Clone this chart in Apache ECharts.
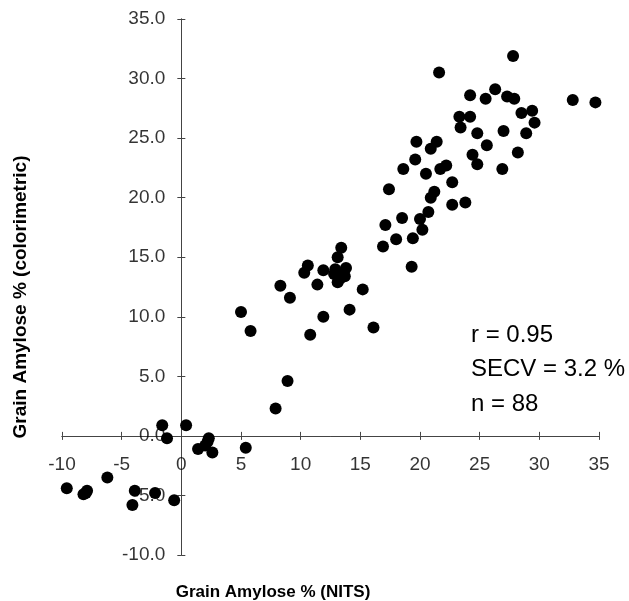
<!DOCTYPE html>
<html>
<head>
<meta charset="utf-8">
<script src="https://cdn.jsdelivr.net/npm/echarts@6/dist/echarts.min.js"></script>
<style>
  html, body { margin: 0; padding: 0; background: #fff; }
  #chart { width: 629px; height: 601px; }
</style>
</head>
<body>
<div id="chart"></div>
<script>
// NITS predicted vs colorimetric grain amylose (%)
var nitsValues = [
    -9.6, -8.2, -7.9, -6.2, -3.9, -4.1, -2.2, -0.6, -1.6, -1.2,
    0.4, 1.4, 2.0, 2.3, 2.6, 5.4, 5.0, 5.8, 7.9, 8.9,
    10.8, 11.9, 8.3, 9.1, 11.4, 10.6, 10.3, 11.9, 13.4, 13.1,
    12.8, 13.8, 13.7, 13.1, 15.2, 14.1, 16.1, 16.9, 18.0, 17.1,
    18.5, 19.4, 20.0, 20.2, 20.7, 19.3, 17.4, 20.9, 21.2, 22.7,
    23.8, 22.7, 18.6, 20.5, 21.7, 22.2, 19.6, 19.7, 20.9, 21.4,
    24.4, 24.8, 25.6, 24.8, 26.9, 23.4, 27.0, 28.2, 27.8, 21.6,
    24.2, 26.3, 25.5, 27.3, 27.9, 32.8, 34.7, 23.3, 24.2, 28.5,
    29.4, 29.6, 28.9, -8.0, 2.2, 13.3, 12.9, 13.5
];
var colorimetricValues = [
    -4.4, -4.9, -4.6, -3.5, -4.6, -5.8, -4.8, -5.4, 0.9, -0.2,
    0.9, -1.1, -0.8, -0.2, -1.4, -1.0, 10.4, 8.8, 2.3, 4.6,
    8.5, 10.0, 12.6, 11.6, 12.7, 14.3, 13.7, 13.9, 15.8, 15.0,
    13.6, 14.1, 13.4, 12.9, 12.3, 10.6, 9.1, 15.9, 16.5, 17.7,
    18.3, 16.6, 18.2, 17.3, 18.8, 14.2, 20.7, 20.0, 20.5, 19.4,
    19.6, 21.3, 22.4, 22.0, 22.4, 22.7, 23.2, 24.7, 24.1, 24.7,
    23.6, 22.8, 24.4, 25.4, 22.4, 25.9, 25.6, 23.8, 31.9, 30.5,
    28.6, 29.1, 28.3, 28.5, 28.3, 28.2, 28.0, 26.8, 26.8, 27.1,
    27.3, 26.3, 25.4, -4.8, -0.5, 13.2, 14.0, 13.6
];
var xTickValues = [-10, -5, 0, 5, 10, 15, 20, 25, 30, 35];
var yTickValues = [-10, -5, 0, 5, 10, 15, 20, 25, 30, 35];
var statsLines = ['r = 0.95', 'SECV = 3.2 %', 'n = 88'];
var xTitle = 'Grain Amylose % (NITS)';
var yTitle = 'Grain Amylose % (colorimetric)';

var points = nitsValues.map(function (x, i) {
    return [x, colorimetricValues[i]];
});

var chart = echarts.init(document.getElementById('chart'));
var font = 'Liberation Sans, Arial, sans-serif';
var axisColor = '#444';

// two copies of each axis: one with outer ticks, one with inner ticks,
// so the ticks cross the line like in the original
function valueAxis(pos, inside) {
    return {
        type: 'value',
        position: pos,
        min: -10,
        max: 35,
        interval: 5,
        splitLine: { show: false },
        axisLine: { show: true, onZero: true, lineStyle: { color: axisColor, width: 1 } },
        axisTick: { show: true, inside: inside, length: 4, lineStyle: { color: axisColor } },
        axisLabel: { show: false }
    };
}

// tick labels sit on the zero lines, so they are drawn as labels of empty points
function tickLabelSeries(data, pos, dist, fmt) {
    return {
        type: 'scatter',
        silent: true,
        z: 1,
        symbolSize: 0,
        label: {
            show: true,
            position: pos,
            distance: dist,
            color: '#000',
            fontFamily: font,
            fontSize: 19,
            formatter: fmt
        },
        data: data
    };
}

var graphics = statsLines.map(function (txt, i) {
    return {
        type: 'text',
        x: 471,
        y: 335 + i * 34.5,
        style: {
            text: txt, fontFamily: font, fontSize: 24, fill: '#000',
            align: 'left', verticalAlign: 'middle'
        }
    };
});
graphics.push({
    type: 'text',
    x: 273,
    y: 592,
    style: {
        text: xTitle, fontFamily: font, fontSize: 17, fontWeight: 'bold', fill: '#000',
        align: 'center', verticalAlign: 'middle'
    }
});
graphics.push({
    type: 'text',
    x: 21,
    y: 297,
    rotation: Math.PI / 2,
    style: {
        text: yTitle, fontFamily: font, fontSize: 19, fontWeight: 'bold', fill: '#000',
        align: 'center', verticalAlign: 'middle'
    }
});

var option = {
    backgroundColor: '#fff',
    animation: false,
    grid: { left: 62, right: 30, top: 19, bottom: 46, containLabel: false },
    xAxis: [valueAxis('bottom', false), valueAxis('bottom', true)],
    yAxis: [valueAxis('left', false), valueAxis('left', true)],
    graphic: graphics,
    series: [
        tickLabelSeries(xTickValues.map(function (v) { return [v, 0]; }), 'bottom', 19,
            function (p) { return String(p.value[0]); }),
        tickLabelSeries(yTickValues.map(function (v) { return [0, v]; }), 'left', 16,
            function (p) { return p.value[1].toFixed(1); }),
        {
            type: 'scatter',
            z: 3,
            symbol: 'circle',
            symbolSize: 12,
            itemStyle: { color: '#000', opacity: 1 },
            data: points
        }
    ]
};

chart.setOption(option);
</script>
</body>
</html>
